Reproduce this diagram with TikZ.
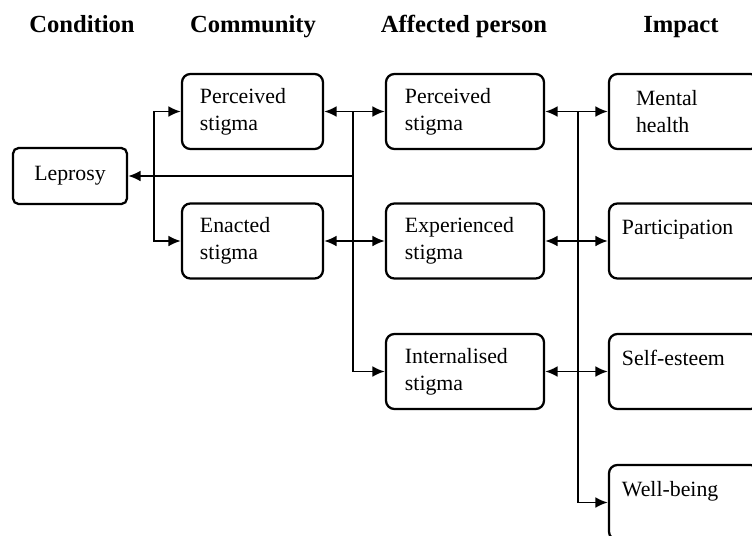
\documentclass[tikz,border=0pt]{standalone}
\usepackage{fontspec}
\setmainfont{Liberation Serif}
\usepackage{tikz}
\usetikzlibrary{positioning}
\usetikzlibrary{arrows.meta}
\tikzset{>={Latex[length=3.1mm,width=2.7mm]}}

\begin{document}
\begin{tikzpicture}[
    x=0.025cm, y=-0.025cm,
    box/.style={
        draw, rounded corners=6pt, line width=1.6pt, align=left,
        minimum height=1.875cm, inner xsep=0pt,
        font=\fontsize{15.5}{19.2}\selectfont
    },
    commbox/.style={box, text width=2.625cm, minimum width=3.525cm},
    affbox/.style={box, text width=3cm, minimum width=3.95cm},
    impbox/.style={box, text width=3.1cm, minimum width=3.75cm},
    head/.style={font=\fontsize{17.5}{20}\selectfont\bfseries, anchor=base},
    conn/.style={->, line width=1.4pt},
    biconn/.style={<->, line width=1.4pt},
]
\useasboundingbox (0,0) rectangle (752,535);
\clip (0,0) rectangle (752,535);

% Column headings
\node[head] (hcond) at (82,32)  {Condition};
\node[head] (hcomm) at (253,32) {Community};
\node[head] (haff)  at (464,32) {Affected person};
\node[head] (himp)  at (681,32) {Impact};

% Condition
\node[box, minimum width=2.85cm, minimum height=1.4cm, align=center,
      rounded corners=4pt] (lep) at (70,176) {Leprosy};

% Community
\node[commbox] (cperc) at (252.5,111.5) {Perceived\\stigma};
\node[commbox] (cenac) at (252.5,241)   {Enacted\\stigma};

% Affected person
\node[affbox] (aperc) at (465,111.5) {Perceived\\stigma};
\node[affbox] (aexp)  at (465,241)   {Experienced\\stigma};
\node[affbox] (aint)  at (465,371.5) {Internalised\\stigma};

% Impact
\node[impbox] (imental) at (684,111.5) {\hspace{10pt}Mental\\\hspace{10pt}health};
\node[impbox] (ipart)   at (684,241)   {Participation\\\mbox{}};
\node[impbox] (iself)   at (684,371.5) {Self-esteem\\\mbox{}};
\node[impbox] (iwell)   at (684,502.5) {Well-being\\\mbox{}};

% Junctions
\coordinate (jleft)  at (154,176);
\coordinate (jmid)   at (353,111.5);
\coordinate (jright) at (578,111.5);

% Leprosy to community
\draw[biconn] (cperc.west) -| (jleft) |- (cenac.west);

% Community to affected person
\draw[biconn] (cperc.east) -- (aperc.west);
\draw[biconn] (cenac.east) -- (aexp.west);
\draw[conn]   (jmid) |- (lep.east);
\draw[conn]   (jmid) |- (aint.west);

% Affected person to impact
\draw[biconn] (aperc.east) -- (imental.west);
\draw[biconn] (aexp.east)  -- (ipart.west);
\draw[biconn] (aint.east)  -- (iself.west);
\draw[conn]   (jright) |- (iwell.west);

\end{tikzpicture}
\end{document}
